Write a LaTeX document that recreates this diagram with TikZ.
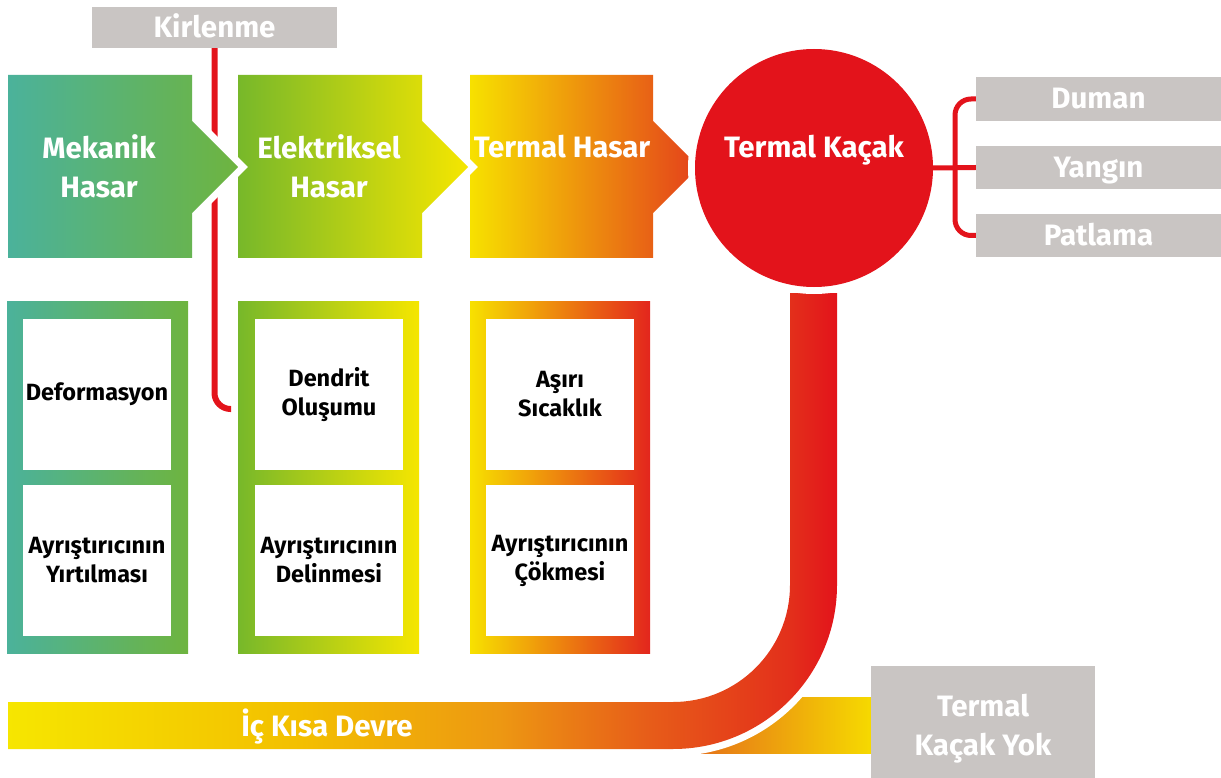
\documentclass[tikz,border=0pt]{standalone}
\usepackage{fontspec}
\setmainfont{Fira Sans}
\definecolor{kgray}{HTML}{C9C5C3}
\definecolor{kred}{HTML}{E3131B}
\definecolor{mteal}{HTML}{4BB29B}
\definecolor{mgreen}{HTML}{6EB43F}
\definecolor{egreen}{HTML}{77B82A}
\definecolor{elime}{HTML}{C8D400}
\definecolor{eyellow}{HTML}{F5E600}
\definecolor{tyellow}{HTML}{F7E100}
\definecolor{torange}{HTML}{EE9E10}
\definecolor{tred}{HTML}{E4401B}
\definecolor{tfred}{HTML}{E3261D}
\definecolor{jy}{HTML}{F6E600}
\definecolor{joa}{HTML}{F3BF00}
\definecolor{job}{HTML}{ED9812}
\definecolor{joc}{HTML}{E75C19}
\definecolor{jra}{HTML}{E3301B}
\definecolor{yokleft}{HTML}{E56E1A}
\definecolor{yokright}{HTML}{F6DA00}
\pgfdeclarehorizontalshading{jband}{100bp}{color(0bp)=(jy); color(25bp)=(jy);
  color(42.6bp)=(joa); color(54.6bp)=(job); color(63.7bp)=(joc);
  color(72.1bp)=(jra); color(75bp)=(kred); color(100bp)=(kred)}
\tikzset{
  halo/.style={preaction={draw=white, line width=14pt}},
  redline/.style={draw=kred, line width=5pt},
  bigtext/.style={text=white, font=\bfseries\fontsize{29.5}{39}\selectfont, align=center},
  graybox/.style={fill=kgray, text=white, font=\bfseries\fontsize{29.5}{39}\selectfont,
    inner sep=0pt, minimum width=245pt, text height=24pt, text depth=4pt},
  cell/.style={fill=white, minimum width=148pt, minimum height=151pt, inner sep=0pt,
    align=center, font=\bfseries\fontsize{23.5}{29}\selectfont},
}
\begin{document}
\begin{tikzpicture}[x=1pt,y=-1pt]
\useasboundingbox (0,0) rectangle (1221,778);
% contamination line
\node[graybox, minimum height=41pt] (kirlenme) at (214.5,27.5) {Kirlenme};
\coordinate (kirlEnd) at (231,409);
\draw[redline, line width=6pt, rounded corners=16pt] (kirlenme.south) |- (kirlEnd);
% damage chevrons, last one first
\shade[halo, left color=tyellow, middle color=torange, right color=tred]
  (470,75) -- (653,75) -- (653,121) -- (699,167) -- (653,213) -- (653,258) -- (470,258) -- cycle;
\shade[halo, left color=egreen, middle color=elime, right color=eyellow]
  (238,75) -- (422,75) -- (422,121) -- (468,167) -- (422,213) -- (422,258) -- (238,258) -- cycle;
\shade[halo, left color=mteal, right color=mgreen]
  (8,75) -- (192,75) -- (192,121) -- (238,167) -- (192,213) -- (192,258) -- (8,258) -- cycle;
\node[bigtext] (mekanik) at (99,166) {Mekanik\\Hasar};
\node[bigtext] (elektrik) at (329,166) {Elektriksel\\Hasar};
\node[bigtext] (termal) at (562,147) {Termal Hasar};
% frames with the causes
\shade[left color=mteal, right color=mgreen] (7,301) rectangle (188,653);
\shade[left color=egreen, middle color=elime, right color=eyellow] (238,301) rectangle (419,653);
\shade[left color=tyellow, middle color=torange, right color=tfred] (470,301) rectangle (650,653);
\node[cell] (deform) at (97,394.5) {Deformasyon};
\node[cell] (yirtil) at (97,560.5) {Ayrıştırıcının\\Yırtılması};
\node[cell] (dendrit) at (329,394.5) {Dendrit\\Oluşumu};
\node[cell] (delin) at (329,560.5) {Ayrıştırıcının\\Delinmesi};
\node[cell] (sicak) at (560,394.5) {Aşırı\\Sıcaklık};
\node[cell] (cokme) at (560,560.5) {Ayrıştırıcının\\Çökmesi};
% short circuit band
\shade[left color=yokleft, right color=yokright] (690,697) rectangle (872,753);
\shade[halo, shading=jband]
  (790,293) -- (790,585) arc[start angle=0, end angle=90, radius=117]
  -- (8,702) -- (8,749) -- (673,749) arc[start angle=90, end angle=0, radius=164]
  -- (837,293) -- cycle;
\node[bigtext] (kisa) at (327,727) {İç Kısa Devre};
\node[fill=kgray, minimum width=224pt, minimum height=112pt, inner sep=0pt] (yok) at (983,722) {};
\node[bigtext] (yoktext) at ([yshift=-7pt]yok.center) {Termal\\Kaçak Yok};
% thermal runaway
\node[circle, fill=kred, halo, minimum size=238pt, inner sep=0pt] (kacak) at (814,168) {};
\node[bigtext] (kacaktext) at ([yshift=18pt]kacak.center) {Termal Kaçak};
\node[graybox, minimum height=44pt] (duman) at (1098.5,99) {Duman};
\node[graybox, minimum height=43pt] (yangin) at (1098.5,167.5) {Yangın};
\node[graybox, minimum height=43pt] (patlama) at (1098.5,235.5) {Patlama};
\coordinate (brace) at (955,168);
\draw[redline] (kacak.east) -- (yangin.west);
\draw[redline, rounded corners=16pt] (duman.west) -| (brace) |- (patlama.west);
\end{tikzpicture}
\end{document}
